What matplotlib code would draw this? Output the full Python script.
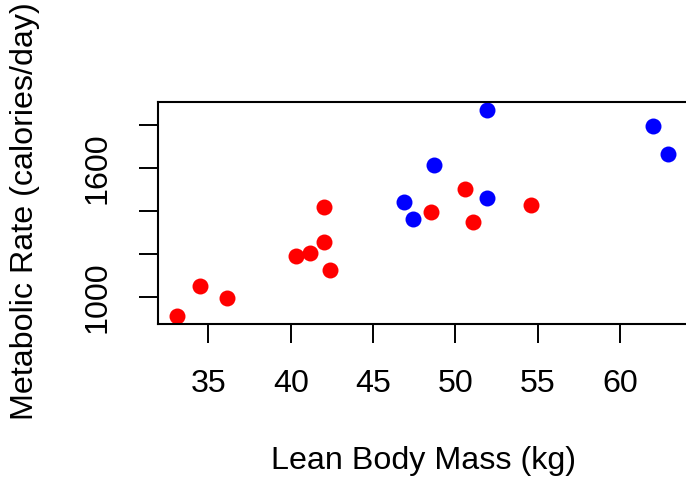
import matplotlib.pyplot as plt

# données : masse maigre (kg) et métabolisme (calories/jour)
female_mass = [36.1, 54.6, 48.5, 42.0, 50.6, 42.0, 40.3, 33.1, 42.4, 34.5, 51.1, 41.2]
female_rate = [995, 1425, 1396, 1418, 1502, 1256, 1189, 913, 1124, 1052, 1347, 1204]
male_mass = [62.0, 62.9, 47.4, 48.7, 51.9, 51.9, 46.9]
male_rate = [1792, 1666, 1362, 1614, 1460, 1867, 1439]

x_ticks = [35, 40, 45, 50, 55, 60]
y_ticks = [1000, 1200, 1400, 1600, 1800]
y_tick_labels = ["1000", "", "", "1600", ""]

plt.rcParams["font.family"] = ["Liberation Sans", "DejaVu Sans"]
fs = 23.2

fig = plt.figure(figsize=(6.86, 4.78), dpi=100)
ax = fig.add_axes([157.5 / 686, 1 - 324 / 478, (687.4 - 157.5) / 686, (324 - 102) / 478])

ax.plot(female_mass, female_rate, "o", color="#ff0000", ms=11.5, mew=0, clip_on=False)
ax.plot(male_mass, male_rate, "o", color="#0000ff", ms=11.5, mew=0, clip_on=False)

all_x = female_mass + male_mass
all_y = female_rate + male_rate
rx = max(all_x) - min(all_x)
ry = max(all_y) - min(all_y)
ax.set_xlim(min(all_x) - 0.04 * rx, max(all_x) + 0.04 * rx)
ax.set_ylim(min(all_y) - 0.04 * ry, max(all_y) + 0.04 * ry)

ax.set_xticks(x_ticks)
ax.set_xticklabels([str(v) for v in x_ticks])
ax.set_yticks(y_ticks)
ax.set_yticklabels(y_tick_labels, rotation=90, va="center")

ax.tick_params(axis="both", length=14, width=1.4, pad=18.5, labelsize=fs, color="black")
for s in ax.spines.values():
    s.set_linewidth(1.5)

fig.text(423 / 686, 1 - 461 / 478, "Lean Body Mass (kg)", ha="center", va="center", fontsize=fs)
fig.text(25 / 686, 1 - 211 / 478, "Metabolic Rate (calories/day)", ha="center", va="center",
         rotation=90, fontsize=fs)

fig.savefig("out.png", dpi=100)
